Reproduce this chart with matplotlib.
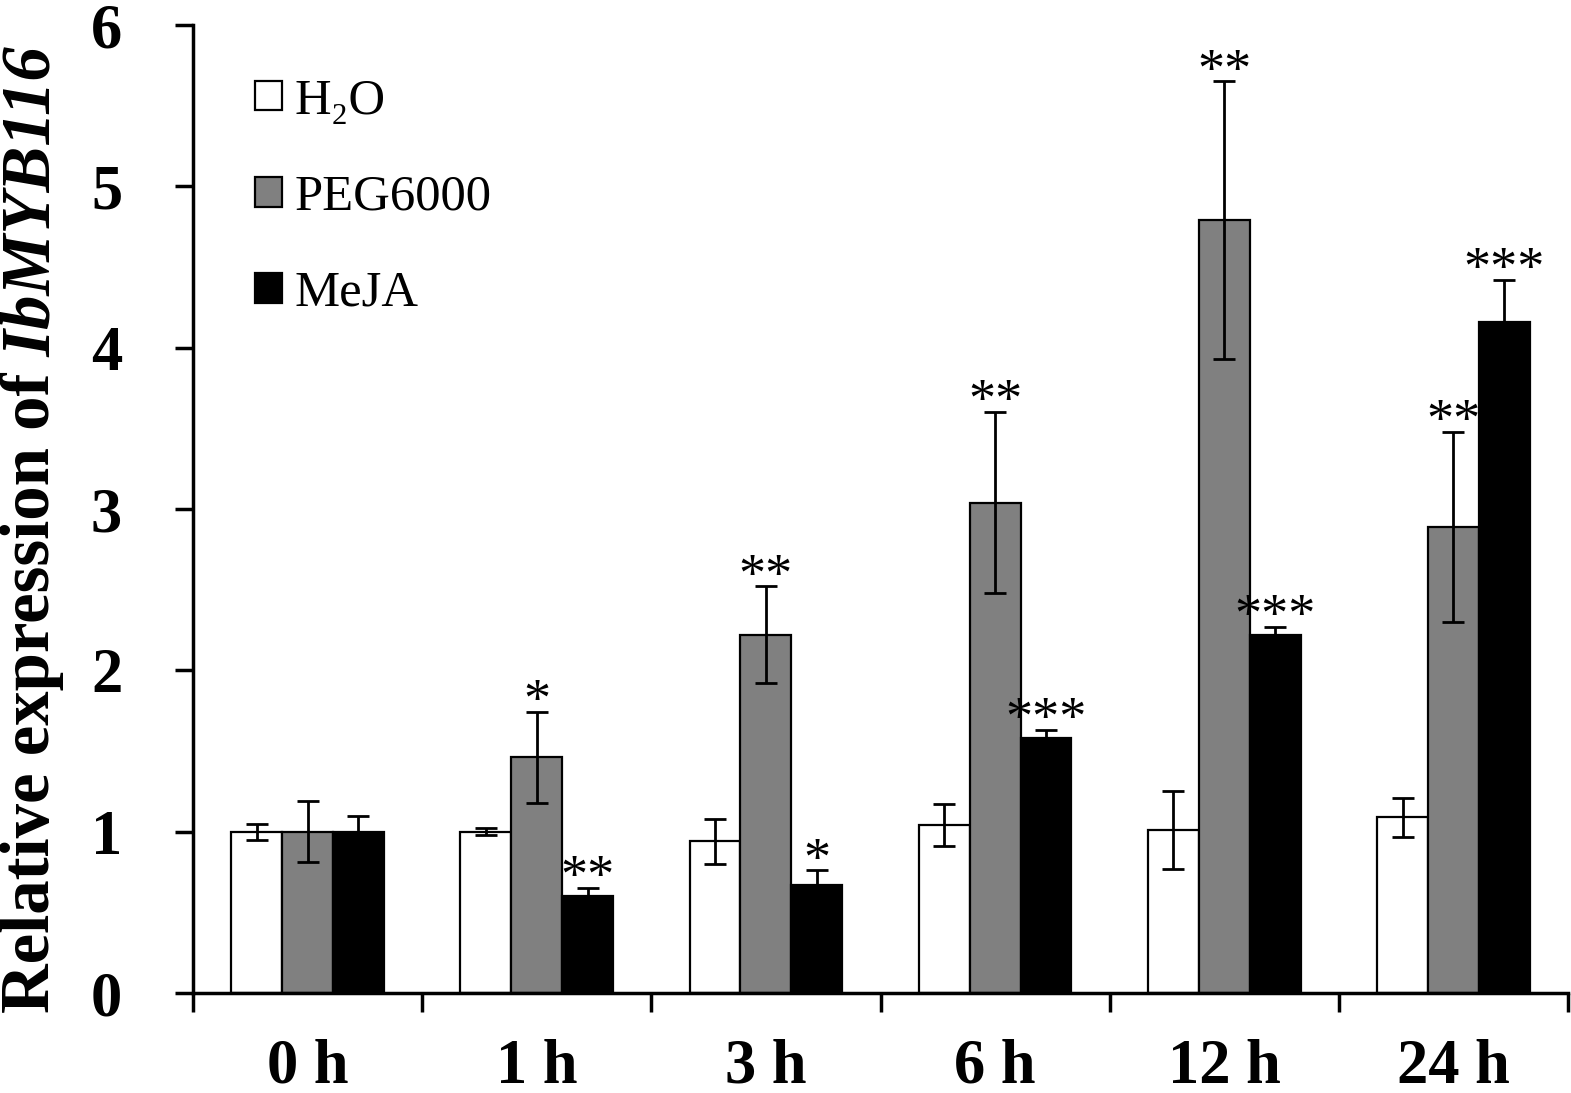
import matplotlib
matplotlib.use("Agg")
import matplotlib.pyplot as plt
import numpy as np

categories = ["0 h", "1 h", "3 h", "6 h", "12 h", "24 h"]
series_names = ["H₂O", "PEG6000", "MeJA"]
h2o = [1.00, 1.00, 0.94, 1.04, 1.01, 1.09]
h2o_err = [0.05, 0.02, 0.14, 0.13, 0.24, 0.12]
peg = [1.00, 1.46, 2.22, 3.04, 4.79, 2.89]
peg_err = [0.19, 0.28, 0.30, 0.56, 0.86, 0.59]
meja = [1.00, 0.60, 0.67, 1.58, 2.22, 4.16]
meja_err = [0.10, 0.05, 0.09, 0.05, 0.05, 0.26]
peg_sig = ["", "*", "**", "**", "**", "**"]
meja_sig = ["", "**", "*", "***", "***", "***"]
yticks = [0, 1, 2, 3, 4, 5, 6]
ylabel_plain = "Relative expression of"
ylabel_gene = " IbMYB116"

plt.rcParams['font.family'] = ['Liberation Serif', 'DejaVu Serif']

W, H = 1571, 1093
fig = plt.figure(figsize=(W/100, H/100), dpi=100)
ax = fig.add_axes([193/W, 1-993/H, (1568-193)/W, (993-25)/H])

x = np.arange(len(categories))
w = 0.222
colors = ["white", "#808080", "black"]
vals = [h2o, peg, meja]
errs = [h2o_err, peg_err, meja_err]
sigs = [None, peg_sig, meja_sig]
for i in range(3):
    pos = x + (i - 1) * w
    ax.bar(pos, vals[i], w, color=colors[i], edgecolor="black", linewidth=1.6,
           label=series_names[i], zorder=2)
    ax.errorbar(pos, vals[i], yerr=errs[i], fmt="none", ecolor="black",
                elinewidth=2.0, capsize=8, capthick=2.0, zorder=3)
    if sigs[i] is not None:
        for p, v, e, s in zip(pos, vals[i], errs[i], sigs[i]):
            if s:
                ax.annotate(s, (p, v + e), xytext=(0, -3), textcoords="offset points",
                            ha="center", va="baseline", fontsize=39, zorder=4)

ax.set_xlim(-0.5, 5.5)
ax.set_ylim(0, 6)
ax.set_yticks(yticks)
ax.set_yticklabels([str(t) for t in yticks], fontsize=45, fontweight="bold")
ax.set_xticks(np.arange(-0.5, 6.0, 1.0))
ax.set_xticklabels([])
ax.set_xticks(x, minor=True)
ax.set_xticklabels(categories, minor=True, fontsize=45, fontweight="bold")
ax.tick_params(axis="x", which="major", direction="out", length=14, width=2.5)
ax.tick_params(axis="x", which="minor", length=0, pad=33)
ax.tick_params(axis="y", direction="out", length=13, width=2.5, pad=38)
for s in ["top", "right"]:
    ax.spines[s].set_visible(False)
for s in ["left", "bottom"]:
    ax.spines[s].set_linewidth(2.5)

# y label: bold upright part + bold italic gene name, rotated
fs0 = 40
x_base = 49 / W
y_start = 1 - 1013 / H
t1 = fig.text(x_base, y_start, ylabel_plain, rotation=90, rotation_mode="anchor",
              ha="left", va="baseline", fontsize=fs0, fontweight="bold")
t2 = fig.text(x_base, y_start, ylabel_gene, rotation=90, rotation_mode="anchor",
              ha="left", va="baseline", fontsize=fs0, fontweight="bold", fontstyle="italic")
fig.canvas.draw()
r = fig.canvas.get_renderer()
total = t1.get_window_extent(r).height + t2.get_window_extent(r).height
fs = fs0 * 966 / total
t1.set_fontsize(fs)
t2.set_fontsize(fs)
fig.canvas.draw()
h1 = t1.get_window_extent(r).height
t2.set_position((x_base, y_start + h1 / H))

leg = ax.legend(loc="upper left", bbox_to_anchor=((255-193)/1375, (993-78)/968),
                frameon=False, fontsize=36.5, handlelength=0.53, handleheight=0.53,
                handletextpad=0.25, labelspacing=0.98, borderpad=0, borderaxespad=0)

fig.savefig("out.png", dpi=100)
